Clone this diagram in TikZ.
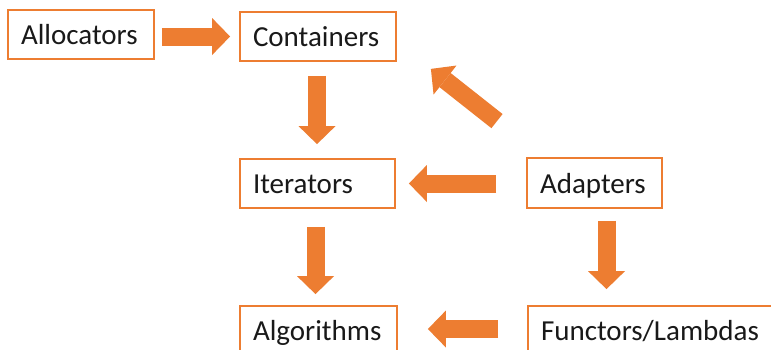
\documentclass[tikz,border=0pt]{standalone}
\usepackage{fontspec}
\setmainfont{Carlito}
\usetikzlibrary{calc,arrows.meta}
\definecolor{borange}{HTML}{ED7D31}
\begin{document}
\begin{tikzpicture}[x=1pt,y=-1pt,
  box/.style={draw=borange, line width=1.8pt, fill=white, minimum height=49pt,
    inner xsep=13pt, inner ysep=0pt, align=left, text height=20pt, text depth=0pt,
    font=\fontsize{29pt}{32pt}\selectfont, text=black!90},
  fat/.style={draw=borange, line width=18pt,
    -{Triangle[length=18pt,width=37pt,line width=0pt]}}]
\clip (0,0) rectangle (771,349);
\fill[white] (0,0) rectangle (771,349);
% boxes
\node[box, text width=120pt] (alloc) at (81,34.5) {Allocators};
\node[box, text width=130pt] (cont) at (318,36.5) {Containers};
\node[box, text width=129pt] (iter) at (317.5,183.5) {Iterators};
\node[box, text width=109pt, minimum height=50pt] (adapt) at (594.5,183) {Adapters};
\node[box, text width=131pt] (algo) at (318.5,330.5) {Algorithms};
\node[box, text width=234pt] (func) at (658,330.5) {Functors/Lambdas};
% arrows
\draw[fat] ($(alloc.east |- cont.west)+(7,0)$) -- ($(cont.west)+(-9,0)$);
\draw[fat] ($(cont.south)+(-1,14)$) -- ($(cont.south |- iter.north)+(-1,-14)$);
\draw[fat] ($(adapt.west |- iter.east)+(-30,0)$) -- ($(iter.east)+(13,0)$);
\draw[fat] ($(adapt.north)+(-97.5,-36)$) -- ($(cont.south east)+(34,7)$);
\draw[fat] ($(iter.south)+(-2,18)$) -- ($(iter.south |- algo.north)+(-2,-11)$);
\draw[fat] ($(adapt.south)+(12,12)$) -- ($(adapt.south |- func.north)+(12,-16)$);
\draw[fat] ($(func.west |- algo.east)+(-29,-1.5)$) -- ($(algo.east)+(30,-1.5)$);
\end{tikzpicture}
\end{document}
